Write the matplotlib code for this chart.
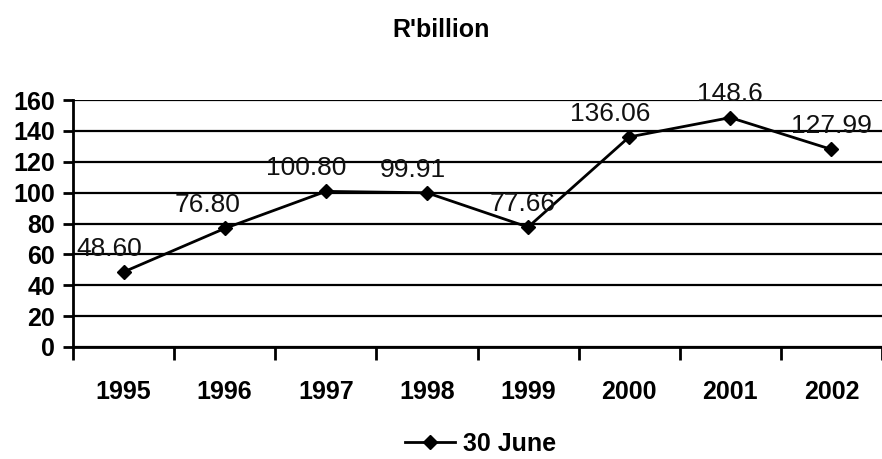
import matplotlib
matplotlib.use("Agg")
import matplotlib.pyplot as plt
from matplotlib.lines import Line2D

years = ["1995", "1996", "1997", "1998", "1999", "2000", "2001", "2002"]
values = [48.60, 76.80, 100.80, 99.91, 77.66, 136.06, 148.6, 127.99]
value_labels = ["48.60", "76.80", "100.80", "99.91", "77.66", "136.06", "148.6", "127.99"]
y_ticks = [0, 20, 40, 60, 80, 100, 120, 140, 160]
series_name = "30 June"
title = "R'billion"

plt.rcParams["font.family"] = ["Liberation Sans", "DejaVu Sans"]

W, H = 882, 459
fig = plt.figure(figsize=(W / 100, H / 100), dpi=100)
ax = fig.add_axes([73 / W, 1 - 347 / H, (W - 73) / W, 247 / H])

x = list(range(len(years)))
ax.plot(x, values, color="black", lw=2, marker="D", ms=7, mfc="black", mec="black", zorder=3)

label_dx = [-10, -12, -14, -10, -4, -14, 0, 0]
for xi, v, lab, dx in zip(x, values, value_labels, label_dx):
    ax.annotate(lab, (xi, v), xytext=(dx, 8), textcoords="offset points",
                ha="center", va="bottom", fontsize=19, color="#111111", zorder=4)

ax.set_ylim(0, 160)
ax.set_yticks(y_ticks)
ax.set_yticklabels([str(t) for t in y_ticks], fontsize=18, fontweight="bold")
ax.set_xlim(-0.5, 7.43)
ax.set_xticks(x)
ax.set_xticklabels(years, fontsize=18, fontweight="bold")
ax.set_xticks([i - 0.5 for i in range(len(years) + 1)], minor=True)

ax.tick_params(axis="y", direction="out", length=7, width=2, pad=6, colors="black")
ax.tick_params(axis="x", which="major", length=0, pad=24)
ax.tick_params(axis="x", which="minor", direction="out", length=9, width=2)

ax.grid(axis="y", color="black", lw=1.6)
ax.set_axisbelow(True)
for side in ("top", "right"):
    ax.spines[side].set_visible(False)
for side in ("left", "bottom"):
    ax.spines[side].set_linewidth(2)
    ax.spines[side].set_color("black")

fig.text(0.5, 1 - 30 / H, title, ha="center", va="center", fontsize=18, fontweight="bold")

handle = Line2D([], [], color="black", lw=2, marker="D", ms=7)
fig.legend([handle], [series_name], loc="center", bbox_to_anchor=(0.545, 1 - 444 / H),
           frameon=False, prop={"size": 18, "weight": "bold"}, handlelength=2.0,
           handletextpad=0.3, borderpad=0.1)

fig.savefig("out.png", dpi=100, facecolor="white")
